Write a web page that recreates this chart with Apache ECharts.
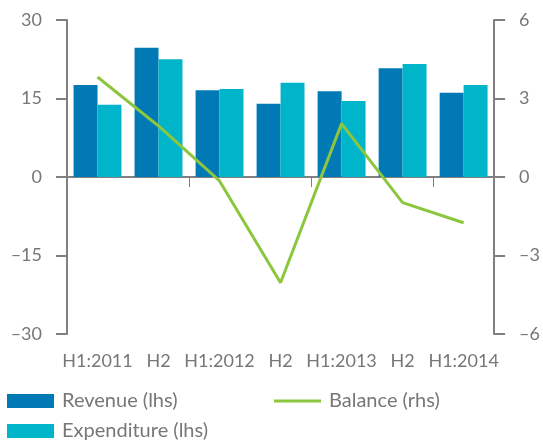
<!DOCTYPE html>
<html>
<head>
<meta charset="utf-8">
<script src="https://cdn.jsdelivr.net/npm/echarts@6/dist/echarts.min.js"></script>
<style>
html, body { margin: 0; padding: 0; background: #fff; }
#chart { width: 543px; height: 440px; }
</style>
</head>
<body>
<div id="chart"></div>
<script>
var categories = ['H1:2011', 'H2', 'H1:2012', 'H2', 'H1:2013', 'H2', 'H1:2014'];
var revenue = [17.6, 24.7, 16.6, 14.0, 16.4, 20.8, 16.1];
var expenditure = [13.8, 22.5, 16.8, 18.0, 14.5, 21.6, 17.6];
var balance = [3.82, 1.95, -0.15, -4.04, 2.04, -0.98, -1.75];

var grey = '#808080';
var textGrey = '#777';
var font = 'Lato, "Open Sans", sans-serif';

function dash(v) { return String(v).replace('-', '\u2013'); }

function legendItem(name, left, top, h) {
  return {
    data: [name], left: left, top: top, padding: 0,
    itemWidth: 47, itemHeight: h, icon: 'rect',
    textStyle: { color: textGrey, fontSize: 20, fontFamily: font, padding: [0, 0, 0, 3] }
  };
}

var chart = echarts.init(document.getElementById('chart'));
var option = {
  animation: false,
  textStyle: { fontFamily: font },
  grid: { left: 67, right: 48, top: 20, bottom: 106 },
  legend: [
    legendItem('Revenue (lhs)', 7, 391, 14),
    legendItem('Expenditure (lhs)', 7, 421, 14),
    legendItem('Balance (rhs)', 274, 391, 3)
  ],
  xAxis: [
    {
      type: 'category', data: categories,
      axisLine: { onZero: true, lineStyle: { color: grey, width: 2 } },
      axisTick: { show: true, length: 10, lineStyle: { color: grey, width: 1 } },
      axisLabel: { show: false }
    },
    {
      type: 'category', data: categories, position: 'bottom',
      axisLine: { show: false, onZero: false },
      axisTick: { show: false },
      axisLabel: { color: textGrey, fontSize: 18, fontFamily: font, margin: 18, interval: 0 }
    }
  ],
  yAxis: [
    {
      type: 'value', min: -30, max: 30, interval: 15,
      axisLine: { show: true, lineStyle: { color: grey, width: 2 } },
      axisTick: { show: true, length: 11, lineStyle: { color: grey, width: 2 } },
      splitLine: { show: false },
      axisLabel: { color: textGrey, fontSize: 18, fontFamily: font, margin: 25, formatter: dash }
    },
    {
      type: 'value', min: -6, max: 6, interval: 3, position: 'right',
      axisLine: { show: true, lineStyle: { color: grey, width: 2 } },
      axisTick: { show: true, length: 11, lineStyle: { color: grey, width: 2 } },
      splitLine: { show: false },
      axisLabel: { color: textGrey, fontSize: 18, fontFamily: font, margin: 25, formatter: dash }
    }
  ],
  series: [
    {
      name: 'Revenue (lhs)', type: 'bar', data: revenue,
      barGap: '0%', barCategoryGap: '21.5%',
      itemStyle: { color: '#0079b5' }
    },
    {
      name: 'Expenditure (lhs)', type: 'bar', data: expenditure,
      itemStyle: { color: '#00b5c9' }
    },
    {
      name: 'Balance (rhs)', type: 'line', yAxisIndex: 1, data: balance,
      symbol: 'none',
      lineStyle: { color: '#8cc63f', width: 3 },
      itemStyle: { color: '#8cc63f' }
    }
  ]
};
chart.setOption(option);
</script>
</body>
</html>
